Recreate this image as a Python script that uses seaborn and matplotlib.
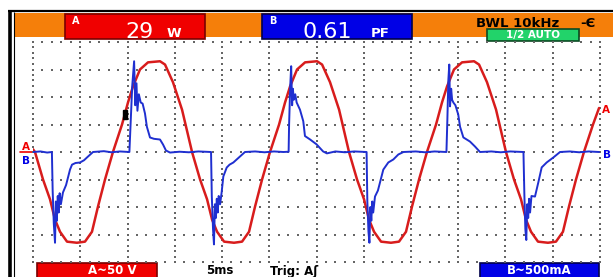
import numpy as np
import pandas as pd
import matplotlib
matplotlib.use('Agg')
import matplotlib.pyplot as plt
from matplotlib.patches import Rectangle
import seaborn as sns

# Traza A: tension (tiempo en ms, tension en V)
volt_t = [0.0, 0.21, 1.06, 1.80, 2.33, 2.86, 3.60, 4.65, 5.50, 6.24, 6.88, 7.62, 8.46,
          9.42, 10.05, 10.58, 11.32, 12.17, 13.44, 13.97, 14.81, 15.77,
          16.83, 17.68, 18.42, 18.95, 19.48, 20.22, 21.27, 22.12, 22.86, 23.50, 24.24, 25.08,
          26.04, 26.67, 27.20, 27.94, 28.79, 30.06, 30.59, 31.43, 32.39,
          33.44, 34.29, 35.03, 35.56, 36.09, 36.83, 37.88, 38.73, 39.47, 40.11, 40.85, 41.69,
          42.65, 43.28, 43.81, 44.55, 45.40, 46.67, 47.20, 48.04, 49.00,
          50.05, 50.90, 51.64, 52.17, 52.70, 53.44, 54.49, 55.34, 56.08, 56.72, 57.46, 58.30,
          59.26, 59.90]
volt_v = [5, 0, -50, -86, -123, -145, -163, -165, -163, -145, -99, -50, 0,
          50, 90, 119, 150, 163, 165, 159, 127, 77,
          0, -50, -86, -123, -145, -163, -165, -163, -145, -99, -50, 0,
          50, 90, 119, 150, 163, 165, 159, 127, 77,
          0, -50, -86, -123, -145, -163, -165, -163, -145, -99, -50, 0,
          50, 90, 119, 150, 163, 165, 159, 127, 77,
          0, -50, -86, -123, -145, -163, -165, -163, -145, -99, -50, 0,
          50, 80]

# Traza B: corriente (tiempo en ms, corriente en mA)
curr_t = [0.0, 0.8, 1.5, 2.0, 2.08, 2.2, 2.33, 2.42, 2.52, 2.62, 2.72, 2.82, 2.95, 3.17,
          3.5, 3.92, 4.13, 4.5, 4.97, 5.4, 5.71, 6.35, 7.5, 8.3, 9.2, 10.2,
          10.3, 10.5, 10.7, 10.82, 10.95, 11.05, 11.2, 11.4, 11.6, 11.85, 12.05, 12.38,
          12.8, 13.44, 13.76, 14.07, 14.5, 15.5, 16.5, 17.5, 18.78,
          18.84, 18.92, 19.05, 19.15, 19.25, 19.35, 19.45, 19.55, 19.65, 19.8, 19.96,
          20.14, 20.5, 20.8, 21.2, 21.9, 22.43, 23.5, 24.5, 25.5, 26.5, 27.05,
          27.1, 27.22, 27.32, 27.42, 27.5, 27.6, 27.75, 27.9, 28.25, 28.6, 28.78, 29.3,
          30.0, 30.7, 31.1, 32.0, 33.0, 34.0, 35.3,
          35.38, 35.5, 35.6, 35.7, 35.8, 35.9, 36.0, 36.19, 36.5, 36.72, 37.07, 37.6,
          38.13, 38.66, 39.2, 40.5, 41.5, 42.5, 43.75,
          43.85, 43.95, 44.05, 44.13, 44.25, 44.35, 44.48, 44.7, 45.0, 45.19, 45.54,
          46.24, 46.77, 47.3, 48.5, 49.5, 50.5, 51.9,
          52.0, 52.1, 52.2, 52.3, 52.4, 52.5, 52.6, 52.75, 53.12, 53.47, 53.83, 54.36,
          55.06, 55.77, 56.8, 57.8, 58.8, 59.9]
curr_ma = [0, 10, -10, 0, -700, -1300, -1650, -900, -1250, -800, -1100, -750, -950, -736,
           -600, -318, -230, -200, -191, -150, -100, 0, 15, -5, 10, 0,
           400, 1200, 1650, 850, 1250, 750, 1050, 900, 880, 700, 460, 264,
           240, 227, 136, 27, -10, 5, -5, 10, 0,
           0, -800, -1400, -1680, -950, -1200, -850, -1100, -800, -950, -736,
           -445, -282, -230, -191, -82, 0, 10, -5, 10, 0, 5,
           500, 1200, 1560, 850, 1150, 950, 1050, 900, 770, 560, 290, 230,
           140, 10, -25, 10, -5, 10, 0,
           -900, -1450, -1650, -1000, -1250, -900, -1100, -810, -700, -555, -320, -190,
           -136, -45, 0, 10, -5, 10, 0,
           600, 1300, 1590, 830, 1150, 950, 900, 850, 680, 460, 265,
           190, 100, 0, 10, -5, 10, 0,
           -800, -1400, -1600, -950, -1200, -850, -1100, -800, -810, -555, -280, -190,
           -100, 0, 10, -5, 10, 0]

v_div = 50      # V por division
ma_div = 500    # mA por division
t_div = 5       # ms por division
t_max = 60
y_max = 4

# marca negra de disparo (ms, div)
trig_t, trig_div = 9.75, 1.36

W, H = 613, 277
ROJO = '#f00000'
AZUL = '#0000e6'
NARANJA = '#f57f0a'

sns.set_style('white')
plt.rcParams['font.family'] = ['DejaVu Sans']

fig = plt.figure(figsize=(W / 100, H / 100), dpi=100)
fig.patch.set_facecolor('white')

# capa de fondo en pixeles
bg = fig.add_axes([0, 0, 1, 1])
bg.set_xlim(0, W)
bg.set_ylim(H, 0)
bg.axis('off')

# marco negro
bg.plot([8, W], [10.5, 10.5], color='black', lw=1.6, solid_capstyle='butt')
bg.plot([9.8, 9.8], [10, H], color='black', lw=2.6, solid_capstyle='butt')
bg.plot([13.6, 13.6], [12, H], color='black', lw=0.8, solid_capstyle='butt')

# barra superior
bg.add_patch(Rectangle((15, 13), W - 15, 24, facecolor=NARANJA, lw=0))


def caja(x, y, w, h, fc, ec):
    bg.add_patch(Rectangle((x, y), w, h, facecolor=fc, edgecolor=ec, lw=1.2))


caja(65, 14, 140, 25, ROJO, '#7a0000')
caja(262, 14, 150, 25, AZUL, '#00004a')
caja(487, 28.5, 92, 12.5, '#22d36a', '#0b4a22')

blanco = dict(color='white')
bg.text(72, 16, 'A', fontsize=7, fontweight='bold', va='top', **blanco)
bg.text(125, 37.5, '29', fontsize=16, va='baseline', **blanco)
bg.text(167, 37, 'W', fontsize=9.5, fontweight='bold', va='baseline', **blanco)
bg.text(269, 16, 'B', fontsize=7, fontweight='bold', va='top', **blanco)
bg.text(302, 37.5, '0.61', fontsize=16, va='baseline', **blanco)
bg.text(371, 37, 'PF', fontsize=9.5, fontweight='bold', va='baseline', **blanco)
negro = dict(fontsize=9.5, fontweight='bold', va='baseline', color='black')
bg.text(476, 27, 'BWL 10kHz', **negro)
bg.text(580, 27, '-Є', **negro)
bg.text(533, 35, '1/2 AUTO', fontsize=7.5, fontweight='bold', ha='center', va='center', **blanco)

# barra inferior
caja(37, 263, 120, 20, ROJO, '#7a0000')
caja(480, 263, 119, 20, AZUL, '#00004a')
bg.text(112, 271, 'A~50 V', fontsize=8.5, fontweight='bold', ha='center', va='center', **blanco)
bg.text(206, 271, '5ms', fontsize=8.5, fontweight='bold', va='center', color='black')
bg.text(270, 271, 'Trig: Aʃ', fontsize=8.5, fontweight='bold', va='center', color='black')
bg.text(539, 271, 'B~500mA', fontsize=8.5, fontweight='bold', ha='center', va='center', **blanco)

# marcadores de canal
bg.text(26, 147, 'A', fontsize=7.5, fontweight='bold', ha='center', va='center', color=ROJO)
bg.plot([20, 32], [152, 152], color=ROJO, lw=1.2)
bg.text(26, 161.5, 'B', fontsize=7.5, fontweight='bold', ha='center', va='center', color=AZUL)
bg.text(606, 110, 'A', fontsize=7.5, fontweight='bold', ha='center', va='center', color=ROJO)
bg.text(607, 155, 'B', fontsize=7.5, fontweight='bold', ha='center', va='center', color=AZUL)

# area de la pantalla
ax = fig.add_axes([33 / W, 15 / H, 567 / W, 220 / H])
ax.set_xlim(0, t_max)
ax.set_ylim(-y_max, y_max)
ax.axis('off')
ax.patch.set_alpha(0)

# reticula punteada
punto = dict(s=1.6, marker='s', color='#666666', linewidths=0, clip_on=False)
for x in np.arange(0, t_max + 1, t_div):
    yy = np.linspace(-y_max, y_max, 8 * 5 + 1)
    ax.scatter(np.full(len(yy), x), yy, **punto)
for y in range(-y_max, y_max + 1):
    xx = np.arange(0, t_max + 1, 1)
    ax.scatter(xx, np.full(len(xx), y), **punto)

df_a = pd.DataFrame({'t': volt_t, 'div': np.array(volt_v) / v_div})
df_b = pd.DataFrame({'t': curr_t, 'div': np.array(curr_ma) / ma_div})

sns.lineplot(data=df_a, x='t', y='div', ax=ax, color='#d81c1c', lw=1.8,
             estimator=None, sort=False)
sns.lineplot(data=df_b, x='t', y='div', ax=ax, color='#1f2fd0', lw=1.4,
             estimator=None, sort=False)
ax.add_patch(Rectangle((trig_t - 0.2, trig_div - 0.16), 0.4, 0.32, color='black', zorder=5))
ax.axis('off')

fig.savefig('out.png', dpi=100)
